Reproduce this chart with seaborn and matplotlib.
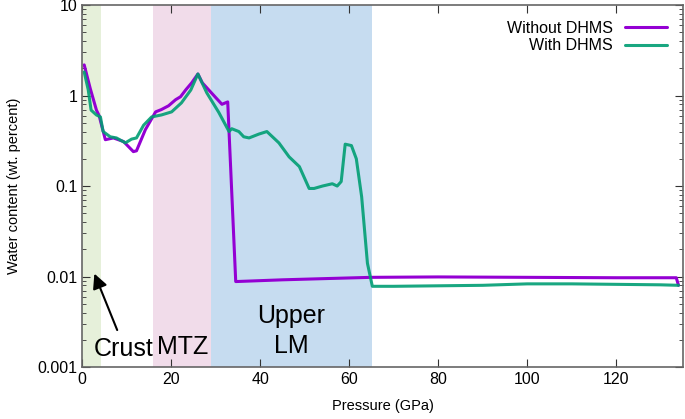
import numpy as np
import pandas as pd
import matplotlib
matplotlib.use("Agg")
import matplotlib.pyplot as plt
import seaborn as sns

# Pressure (GPa) and water content (wt. %)
p_without = [0.45, 1.8, 3.2, 3.8, 5.2, 7.0, 9.3, 11.5, 12.2, 14.2, 16.5, 17.8, 19.4,
             21.0, 22.1, 23.3, 24.6, 26.0, 27.0, 30.0, 31.4, 32.7, 34.5, 45, 55, 65,
             80, 100, 120, 133.5, 134]
w_without = [2.18, 1.2, 0.69, 0.6, 0.325, 0.34, 0.31, 0.24, 0.245, 0.42, 0.66, 0.70, 0.77,
             0.90, 0.97, 1.16, 1.38, 1.73, 1.38, 0.95, 0.80, 0.85, 0.0088, 0.0092, 0.0095, 0.0098,
             0.0099, 0.0098, 0.0097, 0.0097, 0.008]

p_with = [0.45, 1.35, 2.0, 3.2, 4.1, 4.7, 6.3, 7.7, 9.7, 11.1, 12.2, 13.8, 15.6, 17.8,
          20.1, 22.3, 24.4, 26.0, 28.0, 30.7, 33.0, 33.6, 35.2, 36.3, 37.5, 39.7, 41.5,
          44.2, 46.5, 48.8, 51.0, 52.1, 54.0, 56.2, 57.3, 58.2, 59.1, 60.5, 61.6, 62.8,
          64.1, 65.2, 70, 80, 90, 100, 110, 120, 130, 134]
w_with = [1.82, 1.16, 0.69, 0.61, 0.58, 0.40, 0.35, 0.34, 0.30, 0.33, 0.34, 0.47, 0.58, 0.61,
          0.66, 0.83, 1.15, 1.73, 1.07, 0.65, 0.40, 0.43, 0.40, 0.35, 0.34, 0.375, 0.40,
          0.30, 0.21, 0.164, 0.094, 0.094, 0.10, 0.106, 0.10, 0.112, 0.29, 0.28, 0.20, 0.076,
          0.014, 0.0078, 0.0078, 0.0079, 0.0080, 0.0083, 0.0083, 0.0082, 0.0081, 0.0080]

# Regions (GPa)
crust = (0, 4.2)
mtz = (16, 29)
upper_lm = (29, 65.2)

sns.set_style("ticks")
plt.rcParams["font.family"] = ["Liberation Sans", "DejaVu Sans"]
plt.rcParams["text.color"] = "black"
plt.rcParams["axes.labelcolor"] = "black"
plt.rcParams["xtick.color"] = "black"
plt.rcParams["ytick.color"] = "black"

fig = plt.figure(figsize=(6.85, 4.19), dpi=100)
ax = fig.add_axes([0.12, 0.124, 0.877, 0.864])

ax.axvspan(*crust, color="#e6f0da", lw=0, zorder=0)
ax.axvspan(*mtz, color="#f1dcea", lw=0, zorder=0)
ax.axvspan(*upper_lm, color="#c6dcf0", lw=0, zorder=0)

sns.lineplot(x=p_without, y=w_without, ax=ax, color="#9400d3", lw=2.2,
             label="Without DHMS", sort=False)
sns.lineplot(x=p_with, y=w_with, ax=ax, color="#009e73", lw=2.2, alpha=0.9,
             label="With DHMS", sort=False)

ax.set_yscale("log")
ax.set_xlim(0, 135)
ax.set_ylim(0.001, 10)
ax.set_xticks([0, 20, 40, 60, 80, 100, 120])
ax.set_yticks([0.001, 0.01, 0.1, 1, 10])
ax.set_yticklabels(["0.001", "0.01", "0.1", "1", "10"])
ax.tick_params(direction="in", which="both", top=True, right=True, labelsize=11.5,
               color="#333333")
ax.tick_params(which="major", length=6)
ax.tick_params(which="minor", length=3)
for s in ax.spines.values():
    s.set_color("#666666")
    s.set_linewidth(1.2)

ax.set_xlabel("Pressure (GPa)", fontsize=10.5, labelpad=9)
ax.set_ylabel("Water content (wt. percent)", fontsize=10.5, labelpad=12)

ax.text(9.4, 0.00158, "Crust", fontsize=18, ha="center", va="center")
ax.text(22.5, 0.00168, "MTZ", fontsize=18, ha="center", va="center")
ax.text(47, 0.0025, "Upper\nLM", fontsize=18, ha="center", va="center", linespacing=1.3)
ax.annotate("", xy=(2.5, 0.0115), xytext=(8.1, 0.0024),
            arrowprops=dict(arrowstyle="-|>", color="black", lw=1.5, mutation_scale=22))

ax.legend(loc="upper right", frameon=False, markerfirst=False, fontsize=11.5,
          handlelength=2.6, borderaxespad=0.6, labelspacing=0.15)

fig.savefig("out.png", dpi=100)
